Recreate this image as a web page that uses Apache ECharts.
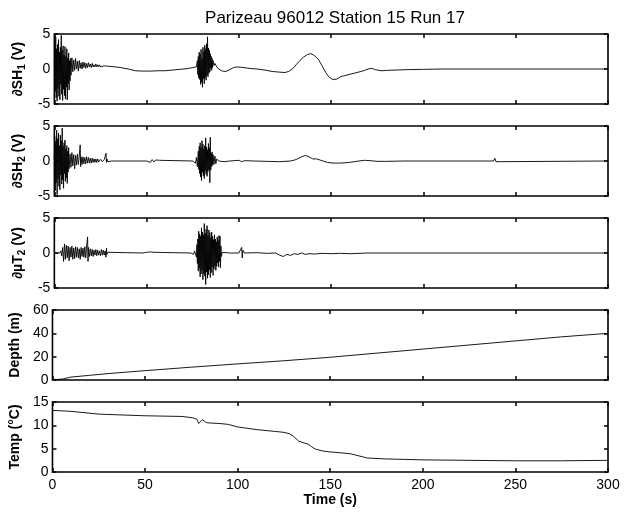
<!DOCTYPE html>
<html>
<head>
<meta charset="utf-8">
<script src="https://cdn.jsdelivr.net/npm/echarts@6/dist/echarts.min.js"></script>
<style>
  html, body { margin: 0; padding: 0; background: #fff; }
</style>
</head>
<body>
<div id="main" style="width: 629px; height: 514px;"></div>
<script>
// time (s), value (V)
var sh1 = [
  [0,0.5],[0.25,3.8],[0.5,-3.2],[0.75,4.6],[1,-4.1],[1.25,2.9],[1.5,-4.6],[1.75,3.5],[2,-2.8],[2.25,4.2],
  [2.5,-3.9],[2.75,2.4],[3,-4.4],[3.25,3.1],[3.5,-2.2],[3.75,4.8],[4,-3.6],[4.25,2.7],[4.5,-4.5],[4.75,3.3],
  [5,-2.9],[5.25,2.0],[5.5,-3.8],[5.75,3.2],[6,-4.3],[6.25,1.8],[6.5,-2.6],[6.75,2.9],[7,-4.4],[7.25,1.6],
  [7.5,-2.1],[7.75,2.3],[8,-3.0],[8.25,1.2],[8.5,-1.7],[8.75,1.5],[9,-0.9],
  [9.5,1.6],[10,-0.4],[10.5,1.3],[11,-0.2],[11.5,1.5],[12,0.0],[12.5,1.1],[13,-0.3],[13.5,1.2],[14,0.1],
  [14.5,0.9],[15,0.0],[15.5,1.0],[16,0.2],[16.5,0.9],[17,0.1],[17.5,0.8],[18,0.2],[18.5,0.9],[19,0.3],
  [19.5,0.7],[20,0.2],[20.5,0.8],[21,0.3],[21.5,0.6],[22,0.3],[22.5,0.7],[23,0.3],[23.5,0.6],[24,0.3],
  [24.5,0.6],[25,0.3],[25.5,0.5],[26,0.3],[27,0.45],[28,0.35],[29,0.4],[30,0.35],
  [33,0.3],[36,0.2],[40,0.0],[44,-0.25],[48,-0.3],[52,-0.3],[56,-0.25],[60,-0.25],[64,-0.15],[68,-0.05],
  [72,0.05],[75,0.2],[77,0.3],
  [77.5,1.2],[77.75,-0.8],[78,1.8],[78.25,-1.3],[78.5,2.4],[78.75,-1.5],[79,2.1],[79.25,-2.2],[79.5,2.8],
  [79.75,-1.9],[80,1.5],[80.25,-2.6],[80.5,3.1],[80.75,-1.4],[81,2.5],[81.25,-2.1],[81.5,3.4],[81.75,-1.2],
  [82,2.9],[82.25,-1.6],[82.5,3.6],[82.75,-0.9],[83,4.6],[83.25,-1.1],[83.5,3.0],[83.75,-0.6],[84,2.7],
  [84.25,-0.4],[84.5,2.2],[84.75,0.1],[85,1.8],[85.25,-0.2],[85.5,1.5],[85.75,0.2],[86,1.2],[86.5,0.5],
  [87,0.8],[88,0.3],
  [89,0.0],[91,-0.3],[93,-0.35],[95,-0.1],[97,0.2],[99,0.3],[101,0.25],[104,0.15],[107,0.05],[110,0.0],
  [114,-0.15],[118,-0.35],[122,-0.45],[125,-0.5],[127,-0.35],[129,0.0],[131,0.6],[133,1.2],[135,1.7],
  [137,2.05],[139,2.2],[141,1.9],[143,1.4],[145,0.5],[147,-0.5],[149,-1.2],[151,-1.5],[152,-1.3],[153,-1.45],
  [155,-1.1],[156,-1.2],[158,-0.9],[159,-1.0],[161,-0.7],[162,-0.8],[164,-0.5],[167,-0.3],[170,0.0],
  [172,0.1],[174,-0.1],[177,-0.25],[180,-0.2],[185,-0.15],[190,-0.1],[200,-0.05],[210,0.0],[230,0.0],
  [260,0.0],[300,0.0]
];

var sh2 = [
  [0,0.2],[0.25,3.5],[0.5,-4.2],[0.75,2.8],[1,-3.1],[1.25,4.4],[1.5,-4.8],[1.75,3.2],[2,-2.5],[2.25,4.0],
  [2.5,-3.6],[2.75,2.2],[3,-4.1],[3.25,3.7],[3.5,-2.0],[3.75,2.9],[4,-3.3],[4.25,4.7],[4.5,-2.7],[4.75,2.1],
  [5,-3.9],[5.25,2.6],[5.5,-1.8],[5.75,3.0],[6,-2.9],[6.25,1.7],[6.5,-2.4],[6.75,2.2],[7,-3.2],[7.25,1.4],
  [7.5,-1.6],[7.75,1.9],[8,-1.1],
  [8.5,1.0],[9,-0.9],[9.5,1.2],[10,-0.7],[10.5,0.9],[11,-1.1],[11.5,0.8],[12,-0.6],[12.5,1.0],[13,-0.5],
  [13.5,0.7],[14,2.3],[14.25,-0.8],[14.5,0.6],[15,-0.5],[15.5,0.6],[16,-0.4],[16.5,0.5],[17,-0.4],[17.5,0.6],
  [18,-0.3],[18.5,0.5],[19,-0.3],[19.5,0.4],[20,-0.3],[20.5,0.4],[21,-0.2],[21.5,0.3],[22,-0.2],[22.5,0.3],
  [23,-0.2],[23.5,0.3],[24,-0.15],[25,0.25],[26,-0.1],[27,0.2],[28,1.1],[28.25,-0.2],[28.5,0.3],[29,-0.1],
  [30,0.1],[31,0.0],[50,0.0],[51,0.2],[52,-0.2],[53,0.2],[54,-0.15],[55,0.15],[56,-0.1],[57,0.1],[58,0.0],
  [75,0.0],
  [76,0.2],[76.5,-0.3],[77,0.5],[77.5,-0.8],[78,1.4],[78.25,-1.2],[78.5,2.1],[78.75,-1.8],[79,2.6],[79.25,-2.3],
  [79.5,1.9],[79.75,-2.8],[80,2.9],[80.25,-1.6],[80.5,2.4],[80.75,-2.1],[81,1.7],[81.25,-2.5],[81.5,2.2],
  [81.75,-1.4],[82,3.3],[82.25,-1.9],[82.5,2.0],[82.75,-2.2],[83,1.6],[83.25,-1.5],[83.5,2.5],[83.75,-1.2],
  [84,1.9],[84.25,-3.1],[84.5,3.4],[84.75,-1.3],[85,1.1],[85.25,-0.8],[85.5,1.3],[85.75,-0.6],[86,0.9],
  [86.5,-0.5],[87,0.7],[87.5,-0.4],[88,0.3],[89,0.0],
  [92,-0.1],[95,0.0],[100,0.1],[101,0.3],[101.5,-0.1],[103,0.05],[108,0.0],[115,-0.05],[122,-0.1],[128,0.0],
  [131,0.2],[134,0.6],[136,0.8],[138,0.6],[140,0.3],[142,0.3],[145,0.05],[148,-0.2],[151,-0.3],[155,-0.3],
  [160,-0.2],[165,0.0],[168,0.1],[171,0.05],[175,-0.05],[180,-0.05],[190,0.0],[238,0.0],[238.7,0.4],
  [239.3,-0.1],[240,0.0],[300,0.0]
];

var ut2 = [
  [0,0],[3,0],[3.5,0.3],[4,-0.4],[4.5,0.8],[5,-1.2],[5.5,1.3],[6,-0.9],[6.5,1.1],[7,-0.7],[7.5,1.0],
  [8,-1.1],[8.5,0.8],[9,-0.6],[9.5,1.0],[10,-0.9],[10.5,0.7],[11,-0.8],[11.5,0.9],[12,-0.6],[12.5,0.8],
  [13,-0.7],[13.5,0.6],[14,-0.9],[14.5,0.8],[15,-0.5],[15.5,0.7],[16,-0.6],[16.5,0.9],[17,-0.7],[17.5,1.0],
  [18,2.3],[18.25,-1.2],[18.5,0.8],[19,-0.5],[19.5,0.6],[20,-0.4],[20.5,0.5],[21,-0.5],[21.5,0.4],[22,-0.3],
  [22.5,0.5],[23,-0.4],[23.5,0.4],[24,-0.3],[24.5,0.3],[25,-0.4],[25.5,0.5],[26,-0.3],[26.5,0.4],[27,-0.3],
  [27.5,0.3],[28,-0.6],[28.25,0.7],[28.5,-0.2],[29,0.1],[30,0.0],
  [48,0],[50,0.1],[51,-0.1],[52,0.15],[53,-0.1],[54,0.1],[55,0],[74,0],[75,0.2],[75.5,-0.2],[76,0.3],
  [77,-0.6],[77.25,1.2],[77.5,-1.5],[77.75,2.0],[78,-2.6],[78.25,3.1],[78.5,-2.2],[78.75,2.7],[79,-3.4],
  [79.25,2.4],[79.5,-3.0],[79.75,3.6],[80,-2.5],[80.25,3.0],[80.5,-3.8],[80.75,2.6],[81,-2.9],[81.25,4.2],
  [81.5,-3.3],[81.75,2.8],[82,-4.5],[82.25,3.4],[82.5,-2.7],[82.75,3.9],[83,-3.6],[83.25,2.5],[83.5,-3.1],
  [83.75,3.3],[84,-2.4],[84.25,2.9],[84.5,-3.5],[84.75,2.2],[85,-2.8],[85.25,3.0],[85.5,-2.0],[85.75,2.4],
  [86,-3.2],[86.25,1.9],[86.5,-2.3],[86.75,2.6],[87,-1.8],[87.25,2.0],[87.5,-2.5],[87.75,1.6],[88,-1.9],
  [88.25,2.3],[88.5,-1.4],[88.75,1.8],[89,-2.0],[89.25,2.5],[89.5,-1.2],[89.75,2.4],[90,-2.1],[90.25,1.0],
  [90.5,-0.5],[91,0.1],[92,0.0],
  [95,0],[100,0],[101.5,0.8],[101.8,-0.7],[102.2,0.4],[103,0],[110,0.05],[115,-0.05],[120,0.0],[122,-0.3],
  [124,-0.5],[126,-0.2],[128,-0.35],[130,-0.1],[132,-0.2],[134,0.0],[136,-0.2],[138,-0.1],[141,-0.15],
  [145,-0.05],[150,-0.1],[155,-0.05],[160,-0.1],[165,-0.05],[170,0.0],[300,0]
];

var depthT = [0, 3, 6, 10, 20, 30, 50, 75, 100, 125, 150, 175, 200, 225, 250, 275, 300];
var depthV = [0.5, 0.5, 1, 2.5, 4, 5.5, 8, 11, 13.8, 16.5, 19.5, 23, 26.5, 30, 33.5, 37, 40];

var tempT = [0, 10, 25, 50, 70, 76, 78, 79, 80, 81, 82, 83, 85, 90, 95, 100, 110, 120, 125, 128, 130, 133,
  136, 138, 140, 142, 146, 150, 156, 161, 165, 170, 180, 190, 200, 225, 250, 275, 300];
var tempV = [13.2, 13.0, 12.4, 12.05, 11.9, 11.6, 11.3, 10.4, 10.5, 11.2, 10.9, 10.6, 10.5, 10.4, 10.2, 9.65,
  9.1, 8.7, 8.5, 8.2, 7.7, 6.6, 6.2, 6.0, 5.4, 4.9, 4.5, 4.3, 4.1, 3.9, 3.5, 3.0, 2.8, 2.7, 2.6, 2.5, 2.4, 2.4, 2.5];

var yRanges = [[-5, 5, 5], [-5, 5, 5], [-5, 5, 5], [0, 60, 20], [0, 15, 5]];
var yNames = [
  '{b|∂SH}{s|1}{b| (V)}',
  '{b|∂SH}{s|2}{b| (V)}',
  '{b|∂µT}{s|2}{b| (V)}',
  '{b|Depth (m)}',
  '{b|Temp (°C)}'
];

function pairs(t, v) {
  return t.map(function (x, i) { return [x, v[i]]; });
}
var seriesData = [sh1, sh2, ut2, pairs(depthT, depthV), pairs(tempT, tempV)];

var tops = [34, 126, 218, 310, 402];
var font = 'Liberation Sans, Arial, sans-serif';
var tick = { show: true, inside: true, length: 4, lineStyle: { color: '#000', width: 1.5 } };

var grids = [], xAxes = [], yAxes = [], series = [];
for (var i = 0; i < 5; i++) {
  grids.push({
    left: 52, right: 21, top: tops[i], height: 70,
    show: true, borderColor: '#000', borderWidth: 1.6, backgroundColor: 'transparent'
  });
  var last = i === 4;
  xAxes.push({
    type: 'value', gridIndex: i, min: 0, max: 300, interval: 50, position: 'bottom',
    axisLine: { show: false, onZero: false },
    axisTick: tick,
    axisLabel: { show: last, color: '#000', fontSize: 14, fontFamily: font, margin: 6 },
    splitLine: { show: false },
    name: last ? 'Time (s)' : '', nameLocation: 'middle', nameGap: 20,
    nameTextStyle: { color: '#000', fontSize: 14, fontWeight: 'bold', fontFamily: font }
  });
  xAxes.push({
    type: 'value', gridIndex: i, min: 0, max: 300, interval: 50, position: 'top',
    axisLine: { show: false, onZero: false },
    axisTick: tick,
    axisLabel: { show: false }, splitLine: { show: false }
  });
  var r = yRanges[i];
  yAxes.push({
    type: 'value', gridIndex: i, min: r[0], max: r[1], interval: r[2], position: 'left',
    axisLine: { show: false, onZero: false },
    axisTick: tick,
    axisLabel: { color: '#000', fontSize: 14, fontFamily: font, margin: 4 },
    splitLine: { show: false },
    name: yNames[i], nameLocation: 'middle', nameGap: 22, nameRotate: 90,
    nameTextStyle: {
      color: '#000', fontFamily: font,
      rich: {
        b: { fontSize: 14, fontWeight: 'bold', fontFamily: font, color: '#000', lineHeight: 17 },
        s: { fontSize: 10, fontWeight: 'bold', fontFamily: font, color: '#000', lineHeight: 17,
             verticalAlign: 'bottom', padding: [9, 0, 0, 0] }
      }
    }
  });
  yAxes.push({
    type: 'value', gridIndex: i, min: r[0], max: r[1], interval: r[2], position: 'right',
    axisLine: { show: false, onZero: false },
    axisTick: tick,
    axisLabel: { show: false }, splitLine: { show: false }
  });
  series.push({
    type: 'line', xAxisIndex: i * 2, yAxisIndex: i * 2,
    data: seriesData[i], showSymbol: false, symbol: 'none',
    lineStyle: { color: '#000', width: 0.9 }, z: 1
  });
}

var myChart = echarts.init(document.getElementById('main'));
var option = {
  animation: false,
  backgroundColor: '#fff',
  title: {
    text: 'Parizeau 96012 Station 15 Run 17',
    left: 330, top: 5, textAlign: 'center',
    textStyle: { color: '#000', fontSize: 17, fontWeight: 'normal', fontFamily: font }
  },
  grid: grids,
  xAxis: xAxes,
  yAxis: yAxes,
  series: series
};
option && myChart.setOption(option);
</script>
</body>
</html>
